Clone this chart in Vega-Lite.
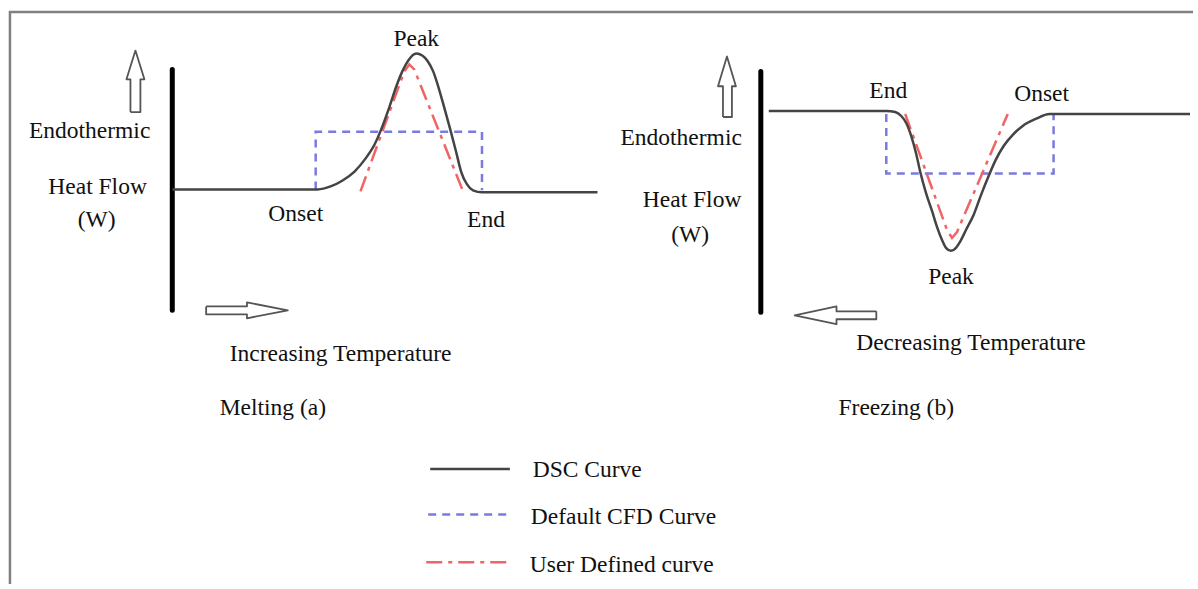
{
  "$schema": "https://vega.github.io/schema/vega-lite/v6.json",
  "width": 1198,
  "height": 589,
  "autosize": {"type": "fit", "contains": "padding"},
  "padding": 0,
  "background": "white",
  "config": {"view": {"stroke": null}},
  "datasets": {
    "lines": [
      {"seg": "border", "kind": "border", "o": 1, "x": 10, "y": 589},
      {"seg": "border", "kind": "border", "o": 2, "x": 10, "y": 12},
      {"seg": "border", "kind": "border", "o": 3, "x": 1198, "y": 12},

      {"seg": "axL", "kind": "axis", "o": 1, "x": 173, "y": 70},
      {"seg": "axL", "kind": "axis", "o": 2, "x": 173, "y": 313},
      {"seg": "axR", "kind": "axis", "o": 1, "x": 764, "y": 72},
      {"seg": "axR", "kind": "axis", "o": 2, "x": 764, "y": 315},

      {"seg": "dscL", "kind": "dsc", "o": 1, "x": 173, "y": 191},
      {"seg": "dscL", "kind": "dsc", "o": 2, "x": 319, "y": 191},
      {"seg": "dscL", "kind": "dsc", "o": 3, "x": 332, "y": 188},
      {"seg": "dscL", "kind": "dsc", "o": 4, "x": 344, "y": 182},
      {"seg": "dscL", "kind": "dsc", "o": 5, "x": 356, "y": 173},
      {"seg": "dscL", "kind": "dsc", "o": 6, "x": 367, "y": 160},
      {"seg": "dscL", "kind": "dsc", "o": 7, "x": 376, "y": 146},
      {"seg": "dscL", "kind": "dsc", "o": 8, "x": 383, "y": 130},
      {"seg": "dscL", "kind": "dsc", "o": 9, "x": 391, "y": 108},
      {"seg": "dscL", "kind": "dsc", "o": 10, "x": 398, "y": 87},
      {"seg": "dscL", "kind": "dsc", "o": 11, "x": 404, "y": 72},
      {"seg": "dscL", "kind": "dsc", "o": 12, "x": 410, "y": 61},
      {"seg": "dscL", "kind": "dsc", "o": 13, "x": 418, "y": 54},
      {"seg": "dscL", "kind": "dsc", "o": 14, "x": 424, "y": 56},
      {"seg": "dscL", "kind": "dsc", "o": 15, "x": 429, "y": 61},
      {"seg": "dscL", "kind": "dsc", "o": 16, "x": 435, "y": 72},
      {"seg": "dscL", "kind": "dsc", "o": 17, "x": 440, "y": 87},
      {"seg": "dscL", "kind": "dsc", "o": 18, "x": 446, "y": 108},
      {"seg": "dscL", "kind": "dsc", "o": 19, "x": 452, "y": 130},
      {"seg": "dscL", "kind": "dsc", "o": 20, "x": 458, "y": 153},
      {"seg": "dscL", "kind": "dsc", "o": 21, "x": 463, "y": 173},
      {"seg": "dscL", "kind": "dsc", "o": 22, "x": 469, "y": 186},
      {"seg": "dscL", "kind": "dsc", "o": 23, "x": 475, "y": 192},
      {"seg": "dscL", "kind": "dsc", "o": 24, "x": 484, "y": 194},
      {"seg": "dscL", "kind": "dsc", "o": 25, "x": 600, "y": 194},

      {"seg": "dscR", "kind": "dsc", "o": 1, "x": 772, "y": 112},
      {"seg": "dscR", "kind": "dsc", "o": 2, "x": 890, "y": 112},
      {"seg": "dscR", "kind": "dsc", "o": 3, "x": 899, "y": 113},
      {"seg": "dscR", "kind": "dsc", "o": 4, "x": 905, "y": 117},
      {"seg": "dscR", "kind": "dsc", "o": 5, "x": 910, "y": 124},
      {"seg": "dscR", "kind": "dsc", "o": 6, "x": 915, "y": 137},
      {"seg": "dscR", "kind": "dsc", "o": 7, "x": 920, "y": 155},
      {"seg": "dscR", "kind": "dsc", "o": 8, "x": 924, "y": 173},
      {"seg": "dscR", "kind": "dsc", "o": 9, "x": 930, "y": 195},
      {"seg": "dscR", "kind": "dsc", "o": 10, "x": 936, "y": 213},
      {"seg": "dscR", "kind": "dsc", "o": 11, "x": 941, "y": 229},
      {"seg": "dscR", "kind": "dsc", "o": 12, "x": 946, "y": 242},
      {"seg": "dscR", "kind": "dsc", "o": 13, "x": 950, "y": 250},
      {"seg": "dscR", "kind": "dsc", "o": 14, "x": 955, "y": 253},
      {"seg": "dscR", "kind": "dsc", "o": 15, "x": 960, "y": 250},
      {"seg": "dscR", "kind": "dsc", "o": 16, "x": 964, "y": 244},
      {"seg": "dscR", "kind": "dsc", "o": 17, "x": 970, "y": 232},
      {"seg": "dscR", "kind": "dsc", "o": 18, "x": 978, "y": 216},
      {"seg": "dscR", "kind": "dsc", "o": 19, "x": 985, "y": 197},
      {"seg": "dscR", "kind": "dsc", "o": 20, "x": 993, "y": 177},
      {"seg": "dscR", "kind": "dsc", "o": 21, "x": 1000, "y": 161},
      {"seg": "dscR", "kind": "dsc", "o": 22, "x": 1008, "y": 147},
      {"seg": "dscR", "kind": "dsc", "o": 23, "x": 1017, "y": 136},
      {"seg": "dscR", "kind": "dsc", "o": 24, "x": 1027, "y": 127},
      {"seg": "dscR", "kind": "dsc", "o": 25, "x": 1040, "y": 120},
      {"seg": "dscR", "kind": "dsc", "o": 26, "x": 1054, "y": 115},
      {"seg": "dscR", "kind": "dsc", "o": 27, "x": 1195, "y": 115},

      {"seg": "dscLeg", "kind": "dsc", "o": 1, "x": 432, "y": 473},
      {"seg": "dscLeg", "kind": "dsc", "o": 2, "x": 512, "y": 473},

      {"seg": "cfdL", "kind": "cfd", "o": 1, "x": 317, "y": 191},
      {"seg": "cfdL", "kind": "cfd", "o": 2, "x": 317, "y": 133},
      {"seg": "cfdL", "kind": "cfd", "o": 3, "x": 484, "y": 133},
      {"seg": "cfdL", "kind": "cfd", "o": 4, "x": 484, "y": 192},
      {"seg": "cfdR", "kind": "cfd", "o": 1, "x": 890, "y": 115},
      {"seg": "cfdR", "kind": "cfd", "o": 2, "x": 890, "y": 175},
      {"seg": "cfdR", "kind": "cfd", "o": 3, "x": 1058, "y": 175},
      {"seg": "cfdR", "kind": "cfd", "o": 4, "x": 1058, "y": 115},
      {"seg": "cfdLeg", "kind": "cfd", "o": 1, "x": 430, "y": 519},
      {"seg": "cfdLeg", "kind": "cfd", "o": 2, "x": 512, "y": 519},

      {"seg": "userL", "kind": "user", "o": 1, "x": 362, "y": 193},
      {"seg": "userL", "kind": "user", "o": 2, "x": 406, "y": 72},
      {"seg": "userL", "kind": "user", "o": 3, "x": 411, "y": 65},
      {"seg": "userL", "kind": "user", "o": 4, "x": 416, "y": 70},
      {"seg": "userL", "kind": "user", "o": 5, "x": 465, "y": 193},
      {"seg": "userR", "kind": "user", "o": 1, "x": 909, "y": 115},
      {"seg": "userR", "kind": "user", "o": 2, "x": 951, "y": 232},
      {"seg": "userR", "kind": "user", "o": 3, "x": 956, "y": 240},
      {"seg": "userR", "kind": "user", "o": 4, "x": 961, "y": 234},
      {"seg": "userR", "kind": "user", "o": 5, "x": 1012, "y": 115},
      {"seg": "userLeg", "kind": "user", "o": 1, "x": 428, "y": 567},
      {"seg": "userLeg", "kind": "user", "o": 2, "x": 512, "y": 567},

      {"seg": "upL", "kind": "arrow", "o": 1, "x": 131, "y": 113},
      {"seg": "upL", "kind": "arrow", "o": 2, "x": 141, "y": 113},
      {"seg": "upL", "kind": "arrow", "o": 3, "x": 141, "y": 80},
      {"seg": "upL", "kind": "arrow", "o": 4, "x": 145, "y": 80},
      {"seg": "upL", "kind": "arrow", "o": 5, "x": 136, "y": 51},
      {"seg": "upL", "kind": "arrow", "o": 6, "x": 127, "y": 80},
      {"seg": "upL", "kind": "arrow", "o": 7, "x": 131, "y": 80},
      {"seg": "upL", "kind": "arrow", "o": 8, "x": 131, "y": 113},

      {"seg": "upR", "kind": "arrow", "o": 1, "x": 726, "y": 118},
      {"seg": "upR", "kind": "arrow", "o": 2, "x": 735, "y": 118},
      {"seg": "upR", "kind": "arrow", "o": 3, "x": 735, "y": 87},
      {"seg": "upR", "kind": "arrow", "o": 4, "x": 739, "y": 87},
      {"seg": "upR", "kind": "arrow", "o": 5, "x": 730, "y": 57},
      {"seg": "upR", "kind": "arrow", "o": 6, "x": 721, "y": 87},
      {"seg": "upR", "kind": "arrow", "o": 7, "x": 726, "y": 87},
      {"seg": "upR", "kind": "arrow", "o": 8, "x": 726, "y": 118},

      {"seg": "rightA", "kind": "arrow", "o": 1, "x": 207, "y": 309},
      {"seg": "rightA", "kind": "arrow", "o": 2, "x": 248, "y": 309},
      {"seg": "rightA", "kind": "arrow", "o": 3, "x": 248, "y": 305},
      {"seg": "rightA", "kind": "arrow", "o": 4, "x": 289, "y": 313},
      {"seg": "rightA", "kind": "arrow", "o": 5, "x": 248, "y": 321},
      {"seg": "rightA", "kind": "arrow", "o": 6, "x": 248, "y": 317},
      {"seg": "rightA", "kind": "arrow", "o": 7, "x": 207, "y": 317},
      {"seg": "rightA", "kind": "arrow", "o": 8, "x": 207, "y": 309},

      {"seg": "leftA", "kind": "arrow", "o": 1, "x": 880, "y": 314},
      {"seg": "leftA", "kind": "arrow", "o": 2, "x": 840, "y": 314},
      {"seg": "leftA", "kind": "arrow", "o": 3, "x": 840, "y": 309},
      {"seg": "leftA", "kind": "arrow", "o": 4, "x": 798, "y": 318},
      {"seg": "leftA", "kind": "arrow", "o": 5, "x": 840, "y": 327},
      {"seg": "leftA", "kind": "arrow", "o": 6, "x": 840, "y": 322},
      {"seg": "leftA", "kind": "arrow", "o": 7, "x": 880, "y": 322},
      {"seg": "leftA", "kind": "arrow", "o": 8, "x": 880, "y": 314}
    ],
    "ctext": [
      {"x": 418, "y": 37, "t": "Peak"},
      {"x": 297, "y": 214, "t": "Onset"},
      {"x": 488, "y": 220, "t": "End"},
      {"x": 90, "y": 130, "t": "Endothermic"},
      {"x": 98, "y": 187, "t": "Heat Flow"},
      {"x": 97, "y": 220, "t": "(W)"},
      {"x": 342, "y": 355, "t": "Increasing Temperature"},
      {"x": 274, "y": 409, "t": "Melting (a)"},
      {"x": 892, "y": 90, "t": "End"},
      {"x": 1046, "y": 93, "t": "Onset"},
      {"x": 955, "y": 277, "t": "Peak"},
      {"x": 684, "y": 137, "t": "Endothermic"},
      {"x": 695, "y": 200, "t": "Heat Flow"},
      {"x": 693, "y": 235, "t": "(W)"},
      {"x": 975, "y": 344, "t": "Decreasing Temperature"},
      {"x": 900, "y": 409, "t": "Freezing (b)"}
    ],
    "ltext": [
      {"x": 535, "y": 472, "t": "DSC Curve"},
      {"x": 533, "y": 519, "t": "Default CFD Curve"},
      {"x": 532, "y": 568, "t": "User Defined curve"}
    ]
  },
  "encoding": {
    "x": {"field": "x", "type": "quantitative", "scale": {"domain": [0, 1198], "nice": false, "zero": false}, "axis": null},
    "y": {"field": "y", "type": "quantitative", "scale": {"domain": [0, 589], "nice": false, "zero": false, "reverse": true}, "axis": null}
  },
  "layer": [
    {
      "data": {"name": "lines"},
      "transform": [{"filter": "datum.kind == 'border'"}],
      "mark": {"type": "line", "stroke": "#808080", "strokeWidth": 2.5, "clip": false},
      "encoding": {"detail": {"field": "seg"}, "order": {"field": "o", "type": "quantitative"}}
    },
    {
      "data": {"name": "lines"},
      "transform": [{"filter": "datum.kind == 'axis'"}],
      "mark": {"type": "line", "stroke": "#000000", "strokeWidth": 5, "strokeCap": "round"},
      "encoding": {"detail": {"field": "seg"}, "order": {"field": "o", "type": "quantitative"}}
    },
    {
      "data": {"name": "lines"},
      "transform": [{"filter": "datum.kind == 'arrow'"}],
      "mark": {"type": "line", "stroke": "#555555", "strokeWidth": 1.8, "strokeJoin": "round"},
      "encoding": {"detail": {"field": "seg"}, "order": {"field": "o", "type": "quantitative"}}
    },
    {
      "data": {"name": "lines"},
      "transform": [{"filter": "datum.kind == 'cfd'"}],
      "mark": {"type": "line", "stroke": "#7a7ae0", "strokeWidth": 2.5, "strokeDash": [8, 6]},
      "encoding": {"detail": {"field": "seg"}, "order": {"field": "o", "type": "quantitative"}}
    },
    {
      "data": {"name": "lines"},
      "transform": [{"filter": "datum.kind == 'user'"}],
      "mark": {"type": "line", "stroke": "#f06464", "strokeWidth": 2.5, "strokeDash": [16, 6, 4, 6]},
      "encoding": {"detail": {"field": "seg"}, "order": {"field": "o", "type": "quantitative"}}
    },
    {
      "data": {"name": "lines"},
      "transform": [{"filter": "datum.kind == 'dsc'"}],
      "mark": {"type": "line", "stroke": "#444444", "strokeWidth": 2.5, "interpolate": "monotone"},
      "encoding": {"detail": {"field": "seg"}, "order": {"field": "o", "type": "quantitative"}}
    },
    {
      "data": {"name": "ctext"},
      "mark": {"type": "text", "align": "center", "baseline": "middle", "dy": 2, "font": "Liberation Serif", "fontSize": 23.5, "color": "#111111"},
      "encoding": {"text": {"field": "t"}}
    },
    {
      "data": {"name": "ltext"},
      "mark": {"type": "text", "align": "left", "baseline": "middle", "dy": 2, "font": "Liberation Serif", "fontSize": 23.5, "color": "#111111"},
      "encoding": {"text": {"field": "t"}}
    }
  ]
}
